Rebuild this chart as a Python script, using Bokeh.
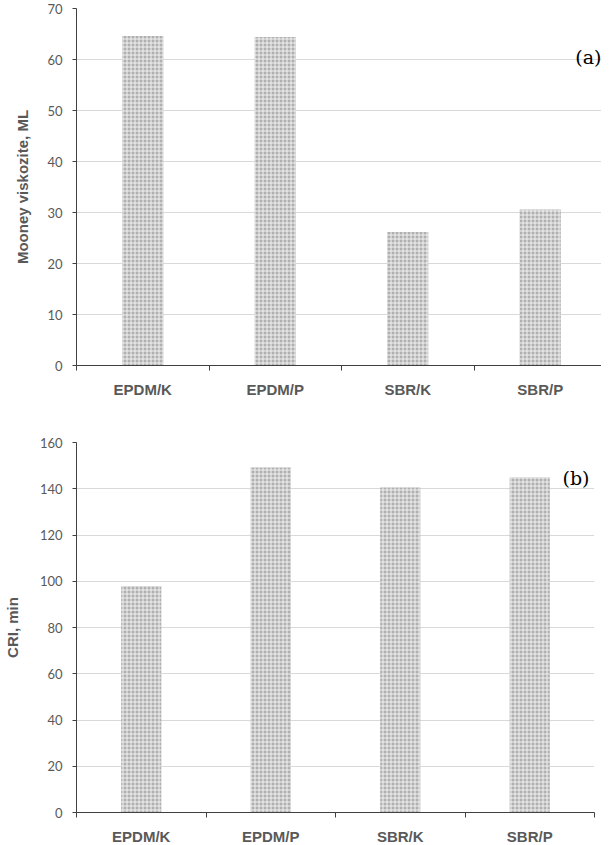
from bokeh.plotting import figure
from bokeh.models import (Range1d, FixedTicker, SingleIntervalTicker, Label, ColumnDataSource)
from bokeh.layouts import column
from bokeh.embed import file_html
from bokeh.resources import INLINE

categories = ["EPDM/K", "EPDM/P", "SBR/K", "SBR/P"]
mooney_values = [64.6, 64.4, 26.2, 30.6]
cri_values = [97.8, 149.2, 140.5, 144.9]

AXIS_COLOR = "#404040"
TEXT_COLOR = "#595959"
GRID_COLOR = "#d9d9d9"

n = len(categories)
centers = [i + 0.5 for i in range(n)]
edges = list(range(n + 1))


def make_panel(values, ymax, interval, ylabel, tag, tag_y, frame_w, frame_h,
               border_left, border_top, border_bottom, label_standoff):
    src = ColumnDataSource(dict(x=centers, val=values))
    p = figure(x_range=Range1d(0, n), y_range=Range1d(0, ymax),
               frame_width=frame_w, frame_height=frame_h,
               min_border_left=border_left, min_border_right=6,
               min_border_top=border_top, min_border_bottom=border_bottom,
               output_backend="svg", toolbar_location=None,
               background_fill_color="white", border_fill_color="white")
    p.outline_line_color = None
    p.xgrid.grid_line_color = None
    p.ygrid.grid_line_color = GRID_COLOR
    p.ygrid.ticker = SingleIntervalTicker(interval=interval)

    p.vbar(x="x", top="val", width=0.31, source=src,
           fill_color="#b0b0b0", line_color=None,
           hatch_pattern="+", hatch_color="white", hatch_alpha=0.8,
           hatch_scale=4, hatch_weight=1)

    ya = p.yaxis[0]
    ya.ticker = SingleIntervalTicker(interval=interval)
    ya.axis_line_color = AXIS_COLOR
    ya.major_tick_line_color = AXIS_COLOR
    ya.major_tick_in = 0
    ya.major_tick_out = 4
    ya.minor_tick_line_color = None
    ya.major_label_standoff = 10
    ya.major_label_text_font = "Lato"
    ya.major_label_text_font_size = "13px"
    ya.major_label_text_color = TEXT_COLOR
    ya.axis_label = ylabel
    ya.axis_label_text_font = "Liberation Sans"
    ya.axis_label_text_font_style = "bold"
    ya.axis_label_text_font_size = "15px"
    ya.axis_label_text_color = TEXT_COLOR
    ya.axis_label_standoff = label_standoff

    xa = p.xaxis[0]
    xa.ticker = FixedTicker(ticks=centers, minor_ticks=edges)
    xa.major_label_overrides = {c: lab for c, lab in zip(centers, categories)}
    xa.axis_line_color = AXIS_COLOR
    xa.major_tick_line_color = None
    xa.major_tick_in = 0
    xa.major_tick_out = 0
    xa.minor_tick_line_color = AXIS_COLOR
    xa.minor_tick_in = 0
    xa.minor_tick_out = 5
    xa.major_label_standoff = 10
    xa.major_label_text_font = "Liberation Sans"
    xa.major_label_text_font_style = "bold"
    xa.major_label_text_font_size = "15px"
    xa.major_label_text_color = TEXT_COLOR

    p.add_layout(Label(x=n, y=tag_y, x_offset=-5, text=tag, text_align="right",
                       text_baseline="middle", text_font="DejaVu Serif",
                       text_font_size="19px", text_color="black"))
    return p


p1 = make_panel(mooney_values, 70, 10, "Mooney viskozite, ML", "(a)", 60.5,
                530, 357, 62, 8, 50, 13)
p2 = make_panel(cri_values, 160, 20, "CRI, min", "(b)", 144.6,
                518, 370, 73, 27, 28, 16)

layout = column(p1, p2, spacing=0)
open("out.html", "w").write(file_html(layout, INLINE))
